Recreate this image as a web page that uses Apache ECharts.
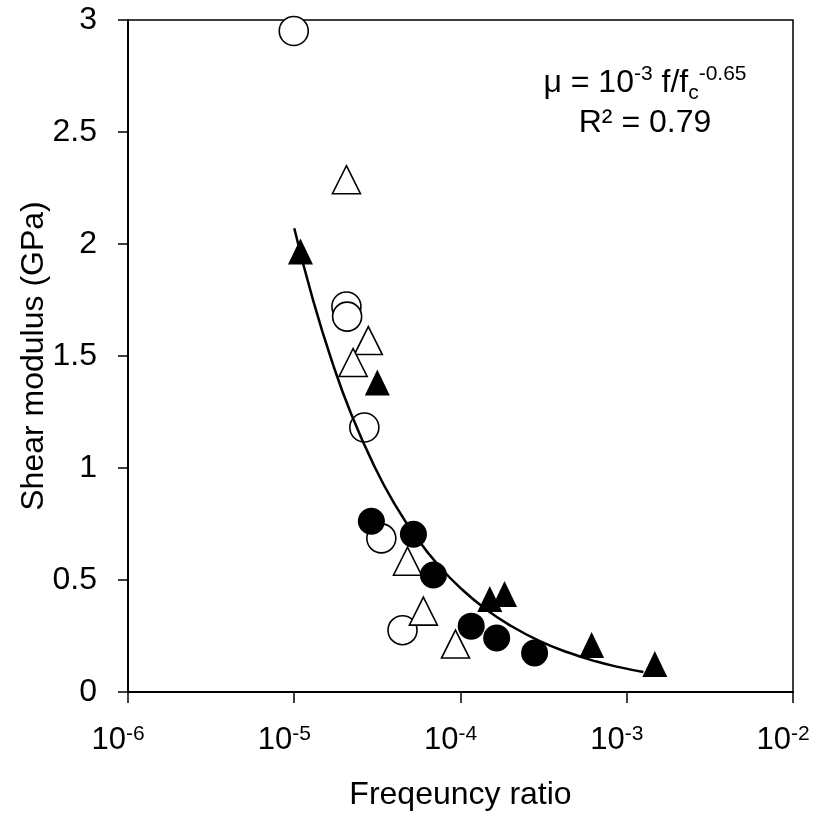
<!DOCTYPE html>
<html><head><meta charset="utf-8">
<script src="https://cdn.jsdelivr.net/npm/echarts@6/dist/echarts.min.js"></script>
<style>html,body{margin:0;padding:0;background:#fff}#c{width:818px;height:816px}</style>
</head><body><div id="c"></div>
<script>
// ---- data ----
const openCircleX = [9.93e-6, 2.06e-5, 2.08e-5, 2.64e-5, 3.34e-5, 4.48e-5];
const openCircleY = [2.951, 1.721, 1.676, 1.181, 0.686, 0.276];

const openTriangleX = [2.06e-5, 2.79e-5, 2.26e-5, 4.8e-5, 5.98e-5, 9.33e-5];
const openTriangleY = [2.287, 1.569, 1.471, 0.584, 0.361, 0.214];

const filledTriangleX = [1.09e-5, 3.16e-5, 1.5e-4, 1.84e-4, 6.15e-4, 1.475e-3];
const filledTriangleY = [1.966, 1.382, 0.415, 0.437, 0.21, 0.125];

const filledCircleX = [2.91e-5, 5.21e-5, 6.87e-5, 1.16e-4, 1.65e-4, 2.79e-4];
const filledCircleY = [0.762, 0.704, 0.522, 0.294, 0.241, 0.174];

// fitted curve
const curveX = [1.0e-5, 1.3e-5, 1.7e-5, 2.2e-5, 3e-5, 4e-5, 5.5e-5, 7.5e-5, 1e-4, 1.4e-4, 2e-4, 3e-4, 4.5e-4, 6.5e-4, 9e-4, 1.26e-3];
const curveY = [2.07, 1.747, 1.468, 1.241, 1.015, 0.841, 0.684, 0.559, 0.464, 0.373, 0.296, 0.227, 0.175, 0.137, 0.111, 0.089];

const xTickExponents = ['-6', '-5', '-4', '-3', '-2'];
const yTickLabels = ['0', '0.5', '1', '1.5', '2', '2.5', '3'];

const xTitle = 'Freqeuncy ratio';
const yTitle = 'Shear modulus (GPa)';
// ---------------------------------------

const zip = (xs, ys) => xs.map((x, i) => [x, ys[i]]);
const FONT = "'Liberation Sans', Arial, sans-serif";

const chart = echarts.init(document.getElementById('c'), null, {renderer: 'canvas'});
chart.setOption({
  animation: false,
  backgroundColor: '#fff',
  grid: {left: 128, right: 25, top: 20, bottom: 123, show: true, borderColor: '#000', borderWidth: 1.5, containLabel: false},
  xAxis: {
    type: 'log', logBase: 10, min: 1e-6, max: 1e-2,
    name: xTitle, nameLocation: 'middle', nameGap: 87, nameMoveOverlap: false,
    nameTextStyle: {fontFamily: FONT, fontSize: 32, color: '#000'},
    axisLine: {show: true, onZero: false, lineStyle: {color: '#000', width: 2}},
    axisTick: {show: true, inside: false, length: 11, lineStyle: {color: '#000', width: 1.5}},
    minorTick: {show: false},
    splitLine: {show: false},
    axisLabel: {
      margin: 31.5,
      padding: [0, 20, 0, 0],
      formatter: (v, i) => '{b|10}{s|' + xTickExponents[i] + '}',
      rich: {
        b: {fontFamily: FONT, fontSize: 31, lineHeight: 34, color: '#000'},
        s: {fontFamily: FONT, fontSize: 21, lineHeight: 26, verticalAlign: 'top', color: '#000'}
      }
    }
  },
  yAxis: {
    type: 'value', min: 0, max: 3, interval: 0.5,
    name: yTitle, nameLocation: 'middle', nameGap: 78, nameRotate: 90, nameMoveOverlap: false,
    nameTextStyle: {fontFamily: FONT, fontSize: 32, color: '#000'},
    axisLine: {show: true, onZero: false, lineStyle: {color: '#000', width: 2}},
    axisTick: {show: true, inside: false, length: 10, lineStyle: {color: '#000', width: 1.5}},
    splitLine: {show: false},
    axisLabel: {
      margin: 31,
      fontFamily: FONT, fontSize: 32, color: '#000',
      formatter: (v, i) => yTickLabels[i]
    }
  },
  graphic: [{
    type: 'text', x: 645, y: 63.5, z: 10,
    style: {
      text: '{m|μ = 10}{sup|-3}{m| f/f}{sub|c}{sup|-0.65}\n{m|R² = 0.79}',
      align: 'center', verticalAlign: 'top',
      rich: {
        m: {fontFamily: FONT, fontSize: 32, lineHeight: 40, fill: '#000'},
        sup: {fontFamily: FONT, fontSize: 21, lineHeight: 28, verticalAlign: 'top', fill: '#000'},
        sub: {fontFamily: FONT, fontSize: 21, lineHeight: 21, verticalAlign: 'bottom', fill: '#000'}
      }
    }
  }],
  series: [
    {type: 'scatter', name: 'open circles', z: 2, data: zip(openCircleX, openCircleY), symbol: 'circle', symbolSize: 29,
      itemStyle: {color: '#fff', borderColor: '#000', borderWidth: 1.6, opacity: 1}},
    {type: 'scatter', name: 'open triangles', z: 3, data: zip(openTriangleX, openTriangleY), symbol: 'triangle', symbolSize: [28, 28],
      itemStyle: {color: '#fff', borderColor: '#000', borderWidth: 1.6, opacity: 1}},
    {type: 'scatter', name: 'filled triangles', z: 4, data: zip(filledTriangleX, filledTriangleY), symbol: 'triangle', symbolSize: [25, 26],
      itemStyle: {color: '#000', opacity: 1}},
    {type: 'scatter', name: 'filled circles', z: 5, data: zip(filledCircleX, filledCircleY), symbol: 'circle', symbolSize: 27,
      itemStyle: {color: '#000', opacity: 1}},
    {type: 'line', name: 'fit', z: 6, data: zip(curveX, curveY), smooth: true, showSymbol: false, symbol: 'none',
      lineStyle: {color: '#000', width: 2.5}}
  ]
});
</script></body></html>
